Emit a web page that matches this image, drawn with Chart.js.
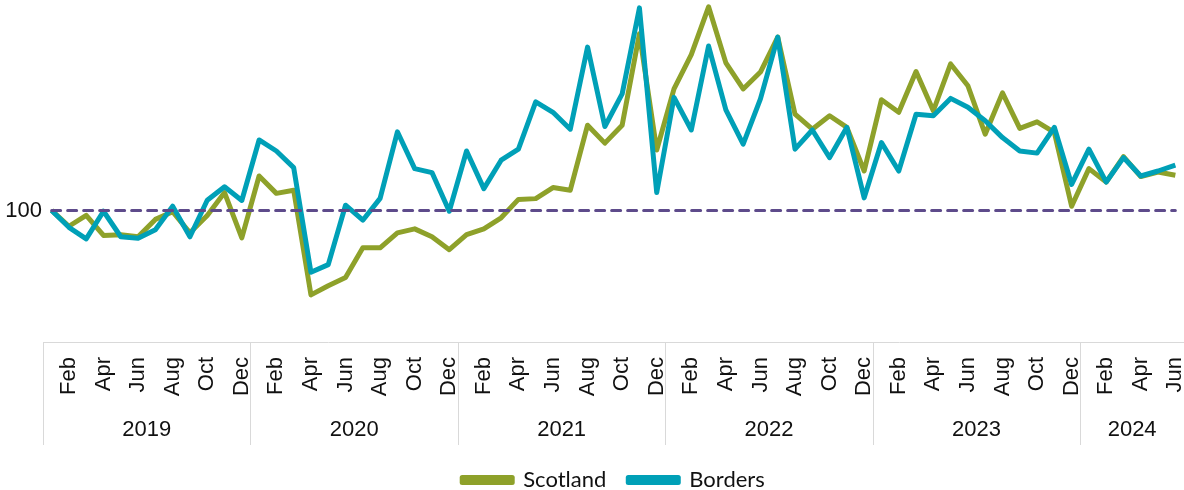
<!DOCTYPE html>
<html>
<head>
<meta charset="utf-8">
<script src="https://cdn.jsdelivr.net/npm/chart.js@4.4.1/dist/chart.umd.min.js"></script>
<style>
  html, body { margin: 0; padding: 0; background: #fff; }
</style>
</head>
<body>
<canvas id="trendChart" width="1184" height="490"></canvas>
<script>
const years = ['2019', '2020', '2021', '2022', '2023', '2024'];
const monthNames = ['Jan', 'Feb', 'Mar', 'Apr', 'May', 'Jun', 'Jul', 'Aug', 'Sep', 'Oct', 'Nov', 'Dec'];
const monthsInLastYear = 6;

// index values, Jan 2019 = 100
const scotland = [
    100, 94.0, 98.1, 90.5, 90.8, 90.0, 96.6, 99.5, 91.5, 98.1, 106.8, 89.6,
    113.1, 106.5, 107.7, 67.9, 71.4, 74.5, 85.8, 85.8, 91.5, 93.0, 90.0, 85.1,
    90.8, 93.0, 97.2, 104.2, 104.5, 108.7, 107.7, 132.4, 125.6, 132.4, 167.2, 123.0,
    146.2, 159.2, 177.4, 156.1, 146.2, 152.6, 165.9, 136.6, 130.9, 136.0, 131.6, 115.0,
    142.1, 137.3, 152.8, 137.9, 155.7, 147.4, 129.0, 144.7, 131.2, 133.7, 129.7, 101.6,
    115.9, 110.8, 120.5, 112.9, 114.6, 113.4
];
const borders = [
    100, 93.6, 89.2, 99.7, 90.0, 89.4, 92.7, 101.6, 90.0, 103.9, 109.0, 103.8,
    126.8, 122.6, 116.3, 76.5, 79.4, 102.0, 96.3, 104.6, 129.9, 115.9, 114.4, 99.7,
    122.6, 108.3, 119.1, 123.3, 141.3, 137.3, 130.9, 162.1, 131.9, 144.3, 177.0, 106.8,
    143.0, 130.6, 162.5, 138.2, 125.2, 142.4, 165.9, 123.3, 130.6, 120.1, 131.6, 104.8,
    125.8, 115.0, 136.6, 136.0, 142.6, 139.2, 134.1, 127.7, 122.6, 121.8, 131.6, 109.9,
    123.3, 110.8, 120.1, 113.1, 115.0, 117.2
];
const baselineValue = 100;
const yTicks = [100];

const labels = [];
years.forEach((yr, yi) => {
    const count = yi === years.length - 1 ? monthsInLastYear : 12;
    for (let m = 0; m < count; m++) labels.push(monthNames[m] + ' ' + yr);
});
const baseline = labels.map(() => baselineValue);

const FONT = '"Liberation Sans", Arial, sans-serif';

// year group row under the month labels
const yearGroups = {
    id: 'yearGroups',
    afterDraw(chart) {
        const ctx = chart.ctx;
        const x = chart.scales.x;
        const top = chart.chartArea.bottom;
        const bottom = top + 103;
        const edges = [chart.chartArea.left];
        for (let i = 12; i < labels.length; i += 12) {
            edges.push((x.getPixelForValue(i - 1) + x.getPixelForValue(i)) / 2);
        }
        edges.push(chart.chartArea.right);

        ctx.save();
        ctx.strokeStyle = '#d9d9d9';
        ctx.lineWidth = 1;
        edges.slice(0, -1).forEach(px => {
            const p = Math.round(px) + 0.5;
            ctx.beginPath();
            ctx.moveTo(p, top);
            ctx.lineTo(p, bottom);
            ctx.stroke();
        });
        ctx.fillStyle = '#111';
        ctx.font = '22px ' + FONT;
        ctx.textAlign = 'center';
        ctx.textBaseline = 'middle';
        years.forEach((yr, i) => {
            ctx.fillText(yr, (edges[i] + edges[i + 1]) / 2, top + 88);
        });
        ctx.restore();
    }
};

new Chart(document.getElementById('trendChart').getContext('2d'), {
    type: 'line',
    data: {
        labels: labels,
        datasets: [
            {
                label: 'Scotland',
                data: scotland,
                borderColor: '#8ea12a',
                backgroundColor: '#8ea12a',
                borderWidth: 5,
                pointRadius: 0,
                borderJoinStyle: 'round',
                order: 2,
            },
            {
                label: 'Borders',
                data: borders,
                borderColor: '#00a0b7',
                backgroundColor: '#00a0b7',
                borderWidth: 5,
                pointRadius: 0,
                borderJoinStyle: 'round',
                order: 1,
            },
            {
                label: 'baseline',
                data: baseline,
                borderColor: '#5e4b8b',
                borderWidth: 3,
                borderDash: [9, 7],
                borderCapStyle: 'round',
                pointRadius: 0,
                order: 0,
            },
        ],
    },
    options: {
        responsive: false,
        animation: false,
        layout: { padding: 0 },
        scales: {
            x: {
                offset: true,
                grid: { display: false, drawTicks: false },
                border: { display: true, color: '#d9d9d9', width: 1 },
                ticks: {
                    autoSkip: false,
                    minRotation: 90,
                    maxRotation: 90,
                    padding: 15,
                    color: '#111',
                    font: { family: FONT, size: 22 },
                    callback: (val, idx) => (idx % 2 === 1 ? monthNames[idx % 12] : ''),
                },
                afterFit: (scale) => {
                    scale.height = 105;
                    scale.paddingLeft = 0;
                    scale.paddingRight = 0;
                },
            },
            y: {
                min: 50,
                max: 180,
                grid: { display: false, drawTicks: false },
                border: { display: false },
                afterBuildTicks: (scale) => { scale.ticks = yTicks.map(v => ({ value: v })); },
                ticks: {
                    padding: 1,
                    color: '#111',
                    font: { family: FONT, size: 22 },
                },
                afterFit: (scale) => {
                    scale.width = 43;
                    scale.paddingTop = 0;
                    scale.paddingBottom = 0;
                },
            },
        },
        plugins: {
            legend: {
                position: 'bottom',
                fullSize: false,
                maxHeight: 43,
                labels: {
                    boxWidth: 50,
                    boxHeight: 5,
                    padding: 22,
                    color: '#111',
                    font: { family: 'Lato, "Open Sans", sans-serif', size: 22 },
                    filter: (item) => item.text !== 'baseline',
                    sort: (a, b) => a.datasetIndex - b.datasetIndex,
                },
            },
            tooltip: { enabled: false },
        },
    },
    plugins: [yearGroups],
});
</script>
</body>
</html>
